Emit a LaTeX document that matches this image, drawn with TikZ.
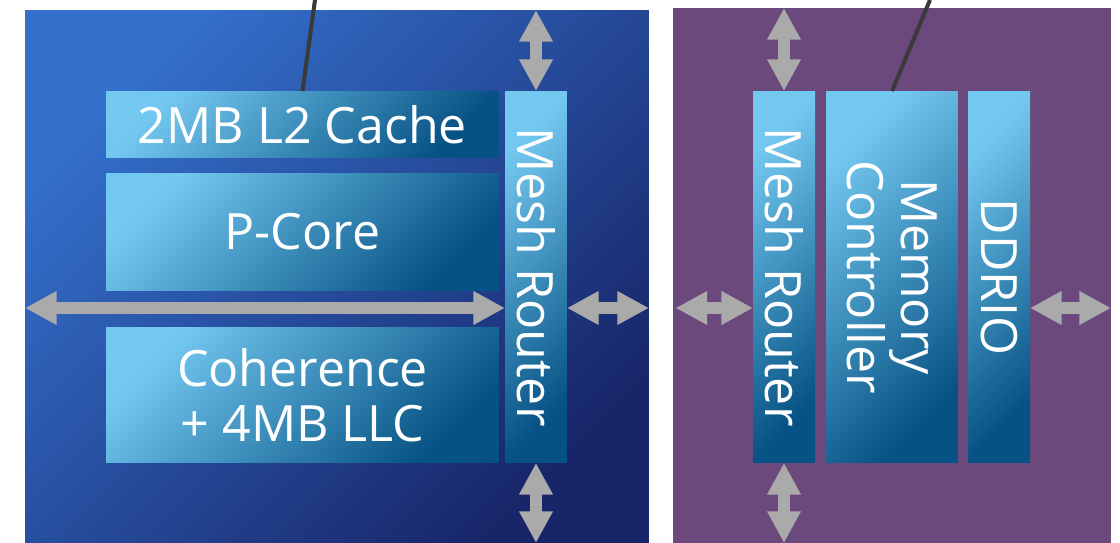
\documentclass[tikz,border=0pt]{standalone}
\usepackage{fontspec}
\setmainfont{Open Sans}
\usetikzlibrary{arrows.meta}

\definecolor{cpulight}{RGB}{52,112,204}
\definecolor{cpudark}{RGB}{24,38,105}
\definecolor{iopurple}{RGB}{108,73,124}
\definecolor{blklight}{RGB}{115,200,240}
\definecolor{blkdark}{RGB}{6,82,132}
\definecolor{arrowgray}{RGB}{170,170,170}
\definecolor{leadgray}{RGB}{58,58,58}

\begin{document}
\begin{tikzpicture}[x=0.02cm, y=-0.02cm,
    blk/.style={shade, top color=blklight, bottom color=blkdark, shading angle=45, inner sep=0pt, outer sep=0pt},
    lbl/.style={text=white, font=\fontsize{28.5}{31}\selectfont, align=center},
    bus/.style={draw=arrowgray, line width=6.6pt, {Triangle[width=18pt,length=18pt]}-{Triangle[width=18pt,length=18pt]}},
    lead/.style={draw=leadgray, line width=2.3pt}]
    \useasboundingbox (0,0) rectangle (1120,543);

    % core tile
    \node[shade, top color=cpulight, bottom color=cpudark, shading angle=45, inner sep=0pt, outer sep=0pt,
          minimum width=12.48cm, minimum height=10.66cm] (cpu) at (337,276.5) {};
    \node[blk, lbl, minimum width=7.86cm, minimum height=1.34cm] (l2) at (302.5,124.5) {2MB L2 Cache};
    \node[blk, lbl, minimum width=7.86cm, minimum height=2.36cm] (pcore) at (302.5,232) {P-Core};
    \node[blk, lbl, minimum width=7.86cm, minimum height=2.72cm] (coh) at (302.5,395) {Coherence\\+ 4MB LLC};
    \node[blk, minimum width=1.24cm, minimum height=7.44cm] (lmesh) at (536,277) {};
    \node[lbl, rotate=-90] at (lmesh) {Mesh Router};

    % memory tile
    \node[fill=iopurple, inner sep=0pt, outer sep=0pt,
          minimum width=8.76cm, minimum height=10.7cm] (io) at (892,275.5) {};
    \node[blk, minimum width=1.24cm, minimum height=7.44cm] (rmesh) at (784,277) {};
    \node[lbl, rotate=-90] at (rmesh) {Mesh Router};
    \node[blk, minimum width=2.64cm, minimum height=7.44cm] (memctl) at (892,277) {};
    \node[lbl, rotate=-90] at (memctl) {Memory\\Controller};
    \node[blk, minimum width=1.24cm, minimum height=7.44cm] (ddrio) at (999,277) {};
    \node[lbl, rotate=-90] at (ddrio) {DDRIO};

    % mesh links
    \coordinate (busw) at (25,308);
    \draw[bus] (busw) -- (lmesh.west |- busw);
    \draw[bus] (lmesh.east |- busw) -- (cpu.east |- busw);
    \draw[bus] ([xshift=0.05cm]io.west |- busw) -- (rmesh.west |- busw);
    \draw[bus] (ddrio.east |- busw) -- (io.east |- busw);
    \draw[bus] (lmesh.north) -- (lmesh.north |- cpu.north);
    \draw[bus] (lmesh.south) -- (lmesh.south |- cpu.south);
    \draw[bus] (rmesh.north) -- (rmesh.north |- io.north);
    \draw[bus] (rmesh.south) -- (rmesh.south |- io.south);

    % callout lines
    \coordinate (l2tag) at (315,0);
    \coordinate (mctag) at (930,0);
    \draw[lead] (l2.north) -- (l2tag);
    \draw[lead] (memctl.north) -- (mctag);
\end{tikzpicture}
\end{document}
